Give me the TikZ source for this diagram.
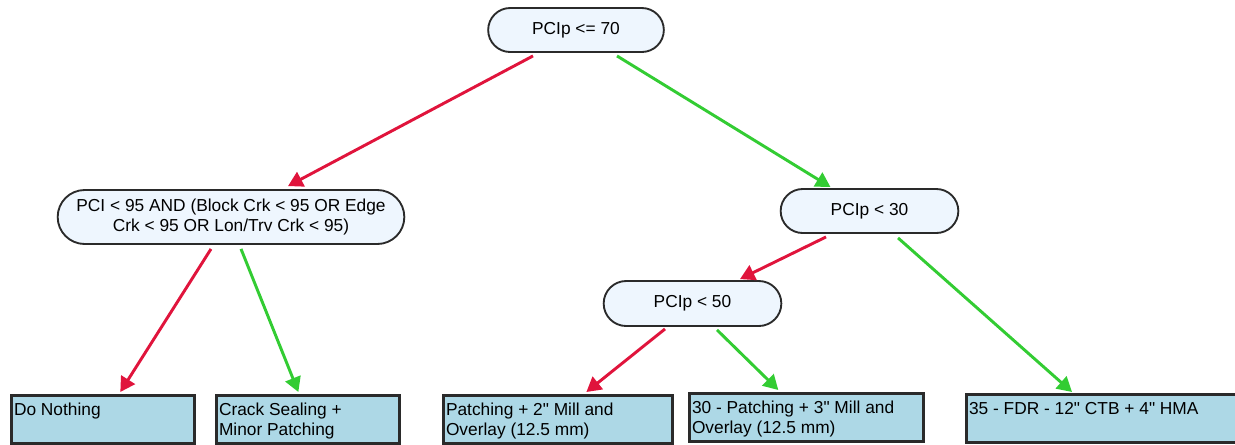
\documentclass[tikz,border=0pt]{standalone}
\usepackage{fontspec}
\setmainfont{Liberation Sans}[Ligatures=TeXOff]
\usetikzlibrary{shapes.misc,arrows.meta}
\definecolor{condfill}{HTML}{EEF6FE}
\definecolor{leaffill}{HTML}{ADD8E6}
\definecolor{nored}{HTML}{E0143C}
\definecolor{yesgreen}{HTML}{33CC33}
\definecolor{edgegray}{HTML}{2A2A2A}
\newcommand{\leaftext}[2]{\parbox[c][32pt][t]{#1}{\raggedright\rule{0pt}{13.4pt}#2}}
\tikzset{
  cond/.style={rounded rectangle, draw=edgegray, line width=1.4pt, fill=condfill,
    font=\fontsize{13pt}{15pt}\selectfont, align=center, inner sep=2pt},
  leaf/.style={rectangle, draw=edgegray, line width=2pt, fill=leaffill, anchor=north west,
    font=\fontsize{13pt}{15pt}\selectfont, inner xsep=2pt, inner ysep=2pt},
  no/.style={draw=nored, line width=2.2pt, -{Triangle[length=11pt,width=12pt]}},
  yes/.style={draw=yesgreen, line width=2.2pt, -{Triangle[length=11pt,width=12pt]}}
}
\begin{document}
\begin{tikzpicture}
    \useasboundingbox (0pt,0pt) rectangle (926.25pt,-333pt);
    % decisions
    \node[cond, minimum width=135.75pt, minimum height=33pt] (root) at (432pt,-22.5pt) {PCIp <= 70};
    \node[cond, minimum width=264pt, minimum height=40.5pt] (crk) at (173.25pt,-162.75pt) {PCI < 95 AND (Block Crk < 95 OR Edge\\Crk < 95 OR Lon/Trv Crk < 95)};
    \node[cond, minimum width=137.25pt, minimum height=33pt] (p30) at (652.125pt,-158.25pt) {PCIp < 30};
    \node[cond, minimum width=137.25pt, minimum height=33.75pt] (p50) at (519.375pt,-227.625pt) {PCIp < 50};
    % treatments
    \node[leaf] (nothing) at (7.5pt,-295.5pt) {\leaftext{133.25pt}{Do Nothing}};
    \node[leaf] (crack) at (161.25pt,-295.5pt) {\leaftext{133.25pt}{Crack Sealing +\\Minor Patching}};
    \node[leaf] (patchtwo) at (331.5pt,-295.5pt) {\leaftext{167.75pt}{Patching + 2" Mill and\\Overlay (12.5 mm)}};
    \node[leaf] (patchthree) at (516pt,-294pt) {\leaftext{171.5pt}{30 - Patching + 3" Mill and\\Overlay (12.5 mm)}};
    \node[leaf] (fdr) at (723.75pt,-294.75pt) {\leaftext{205pt}{35 - FDR - 12" CTB + 4" HMA}};
    % branches
    \draw[no] ([xshift=-32.25pt,yshift=-2.25pt]root.south) -- ([xshift=42.75pt,yshift=2.25pt]crk.north);
    \draw[yes] ([xshift=30.75pt,yshift=-2.25pt]root.south) -- ([xshift=-29.25pt,yshift=0.75pt]p30.north);
    \draw[no] ([xshift=-15pt,yshift=-3pt]crk.south) -- ([xshift=13.1pt,yshift=1.5pt]nothing.north);
    \draw[yes] ([xshift=7.5pt,yshift=-3pt]crk.south) -- ([xshift=-7.1pt,yshift=1.5pt]crack.north);
    \draw[no] ([xshift=-32.6pt,yshift=-2.25pt]p30.south) -- ([xshift=35.6pt,yshift=0.75pt]p50.north);
    \draw[yes] ([xshift=21.4pt,yshift=-3pt]p30.south) -- ([xshift=80.25pt,yshift=0.75pt]fdr.north west);
    \draw[no] ([xshift=-20.6pt,yshift=-1.5pt]p50.south) -- ([xshift=21.4pt,yshift=1.5pt]patchtwo.north);
    \draw[yes] ([xshift=18.4pt,yshift=-2.25pt]p50.south) -- ([xshift=-21pt,yshift=1.5pt]patchthree.north);
\end{tikzpicture}
\end{document}
